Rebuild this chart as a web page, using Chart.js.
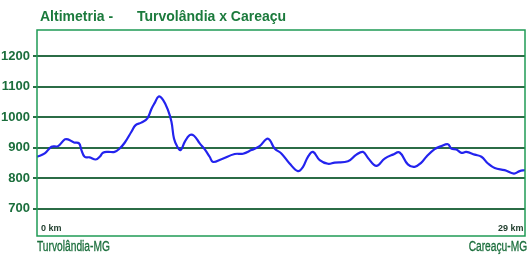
<!DOCTYPE html>
<html>
<head>
<meta charset="utf-8">
<script src="https://cdn.jsdelivr.net/npm/chart.js@4"></script>
<style>
  body { margin: 0; background: #fff; }
  #wrap { position: relative; width: 532px; height: 264px; }
  .title { position: absolute; top: 9px; font: bold 14px "Liberation Sans", Arial, sans-serif; color: #1b7a3c; white-space: pre; line-height: 14px; }
  .km { position: absolute; top: 224px; font: bold 9px "Liberation Sans", Arial, sans-serif; color: #1d3b2a; line-height: 9px; }
  .place { position: absolute; top: 239px; font: 14px "Liberation Sans", Arial, sans-serif; color: #1b6e3c; line-height: 14px; white-space: pre; -webkit-text-stroke: 0.3px #1b6e3c; }
</style>
</head>
<body>
<div id="wrap">
  <canvas id="altChart" width="532" height="264"></canvas>
  <div class="title" style="left:40px">Altimetria -</div>
  <div class="title" style="left:137px">Turvolândia x Careaçu</div>
  <div class="km" style="left:41px">0 km</div>
  <div class="km" style="left:498px">29 km</div>
  <div class="place" style="left:37px; transform:scaleX(0.73); transform-origin:left">Turvolândia-MG</div>
  <div class="place" style="right:5px; transform:scaleX(0.73); transform-origin:right">Careaçu-MG</div>
</div>
<script>
// distance along the route (km) and elevation (m)
var distances = [0, 0.46, 0.86, 1.25, 1.65, 1.84, 2.20, 2.50, 2.64, 2.83, 3.13, 3.49, 3.73, 3.92, 4.22, 4.61, 4.91, 5.21, 5.61, 5.86, 6.20, 6.56, 6.80, 6.99, 7.23, 7.49, 7.78, 7.99, 8.14, 8.34, 8.54, 8.78, 9.07, 9.33, 9.67, 9.96, 10.26, 10.46, 10.96, 11.75, 12.24, 12.74, 13.23, 13.63, 13.83, 14.12, 14.52, 15.01, 15.51, 15.81, 16.10, 16.40, 16.80, 17.29, 17.69, 18.48, 18.98, 19.37, 19.67, 20.17, 20.66, 21.15, 21.55, 22.04, 22.44, 22.84, 23.14, 23.63, 24.03, 24.42, 24.62, 24.92, 25.22, 25.51, 26.01, 26.41, 26.80, 27.20, 27.79, 28.34, 28.68, 29];
var elevations = [870, 881, 903, 905, 927, 927, 917, 914, 892, 870, 868, 861, 870, 883, 886, 886, 897, 916, 952, 974, 982, 996, 1027, 1046, 1068, 1057, 1024, 985, 930, 903, 892, 919, 941, 939, 914, 895, 870, 853, 862, 879, 880, 892, 905, 928, 925, 897, 881, 848, 823, 837, 870, 886, 859, 847, 851, 855, 877, 886, 866, 840, 864, 877, 884, 845, 837, 851, 870, 895, 905, 911, 897, 894, 883, 886, 877, 870, 848, 833, 826, 815, 823, 826];
var elevationTicks = [700, 800, 900, 1000, 1100, 1200];

var points = distances.map(function (d, i) { return { x: d, y: elevations[i] }; });

// plot frame in light green
var framePlugin = {
     id: 'frame',
     afterDraw: function (chart) {
          var a = chart.chartArea, ctx = chart.ctx;
          ctx.save();
          ctx.strokeStyle = '#1f9b55';
          ctx.lineWidth = 1.5;
          ctx.strokeRect(a.left, a.top, a.right - a.left, a.bottom - a.top);
          ctx.restore();
     }
};

new Chart(document.getElementById('altChart').getContext('2d'), {
     type: 'line',
     data: {
          datasets: [{
               data: points,
               borderColor: '#2323ee',
               borderWidth: 2.2,
               pointRadius: 0,
               tension: 0.4,
               fill: false
          }]
     },
     options: {
          responsive: false,
          animation: false,
          devicePixelRatio: 1,
          layout: { padding: { top: 30, right: 7, left: 0, bottom: 0 } },
          plugins: { legend: { display: false }, tooltip: { enabled: false } },
          scales: {
               x: {
                    type: 'linear',
                    min: 0,
                    max: 29,
                    grid: { display: false, drawTicks: false },
                    border: { display: false },
                    ticks: { display: false },
                    afterFit: function (scale) { scale.height = 28; }
               },
               y: {
                    min: 610,
                    max: 1286,
                    afterBuildTicks: function (scale) {
                         scale.ticks = elevationTicks.map(function (v) { return { value: v }; });
                    },
                    afterFit: function (scale) { scale.width = 37; },
                    border: { display: false },
                    grid: { color: '#2b6c46', lineWidth: 2, tickLength: 4 },
                    ticks: {
                         padding: 3,
                         color: '#1b6e3c',
                         font: { family: '"Liberation Sans", Arial, sans-serif', size: 13, weight: 'bold' },
                         callback: function (v) { return String(v); }
                    }
               }
          }
     },
     plugins: [framePlugin]
});
</script>
</body>
</html>
